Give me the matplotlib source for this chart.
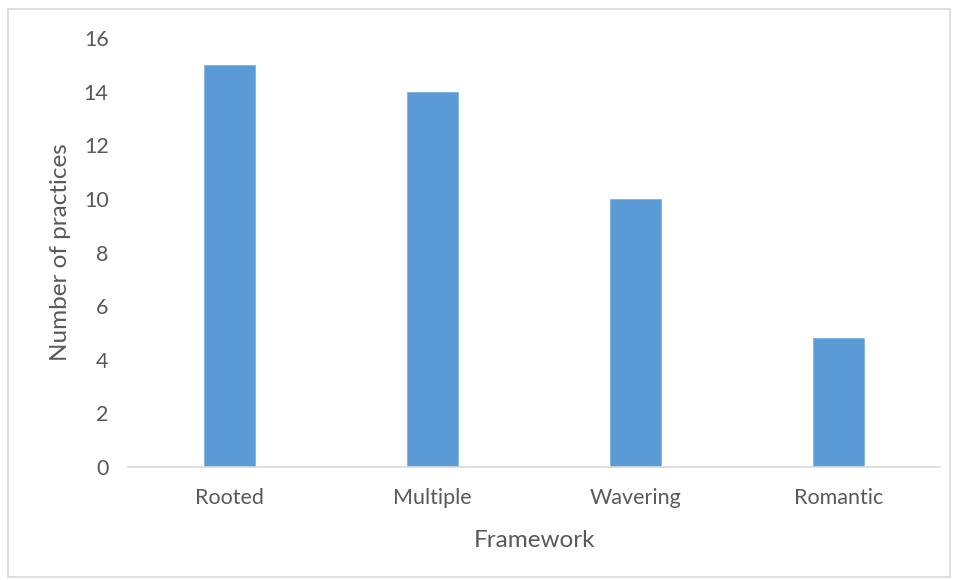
import matplotlib
matplotlib.use("Agg")
import matplotlib.pyplot as plt
from matplotlib.patches import Rectangle

# Chart data
frameworks = ["Rooted", "Multiple", "Wavering", "Romantic"]
practices = [15, 14, 10, 4.8]
y_ticks = [0, 2, 4, 6, 8, 10, 12, 14, 16]

BAR_COLOR = "#5B9BD5"
TEXT_COLOR = "#595959"
LINE_COLOR = "#D9D9D9"

plt.rcParams["font.family"] = ["Lato", "DejaVu Sans"]

fig = plt.figure(figsize=(9.57, 5.80), dpi=100)
ax = fig.add_axes([0.1338, 0.1948, 0.8485, 0.7397])

x = list(range(len(frameworks)))
ax.bar(x, practices, width=0.25, color=BAR_COLOR, edgecolor="#7FB2E0", linewidth=0.6, zorder=2)

ax.set_xlim(-0.5, len(frameworks) - 0.5)
ax.set_ylim(0, 16)
ax.set_yticks(y_ticks)
ax.set_xticks(x)
ax.set_xticklabels(frameworks)

for side in ["top", "right", "left"]:
    ax.spines[side].set_visible(False)
ax.spines["bottom"].set_color(LINE_COLOR)
ax.spines["bottom"].set_linewidth(1.2)

ax.tick_params(axis="both", length=0, labelsize=15.5, colors=TEXT_COLOR)
ax.tick_params(axis="y", pad=14)
ax.tick_params(axis="x", pad=15)

ax.set_xlabel("Framework", fontsize=17.5, color=TEXT_COLOR, labelpad=16)
ax.set_ylabel("Number of practices", fontsize=17.5, color=TEXT_COLOR, labelpad=9)

# light frame around the whole chart
fig.patches.append(Rectangle((8 / 957, 3 / 580), 942 / 957, 568 / 580,
                             transform=fig.transFigure, fill=False,
                             edgecolor=LINE_COLOR, linewidth=1.2))

fig.savefig("out.png", dpi=100)
